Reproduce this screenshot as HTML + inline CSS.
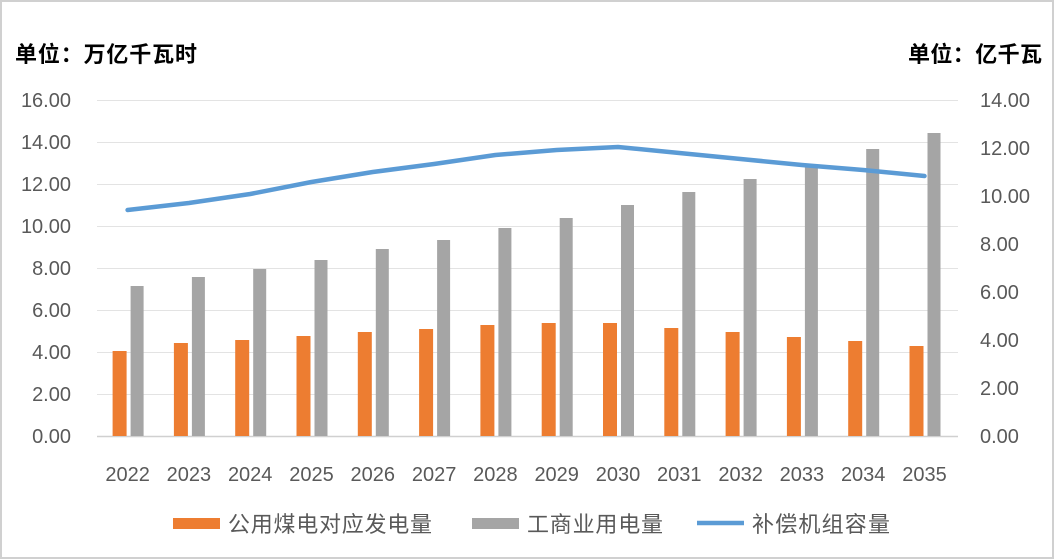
<!DOCTYPE html>
<html><head><meta charset="utf-8"><style>
html,body{margin:0;padding:0;background:#fff;}
svg{display:block;font-family:"Liberation Sans","Noto Sans CJK SC",sans-serif;}
</style></head><body>
<svg width="1054" height="559" viewBox="0 0 1054 559">
<rect x="1" y="1" width="1052" height="557" fill="#fff" stroke="#d0d0d0" stroke-width="2"/>
<g stroke="#e3e3e3" stroke-width="1">
<line x1="97" x2="958" y1="100.5" y2="100.5"/><line x1="97" x2="958" y1="142.5" y2="142.5"/>
<line x1="97" x2="958" y1="184.5" y2="184.5"/><line x1="97" x2="958" y1="226.5" y2="226.5"/>
<line x1="97" x2="958" y1="268.5" y2="268.5"/><line x1="97" x2="958" y1="310.5" y2="310.5"/>
<line x1="97" x2="958" y1="352.5" y2="352.5"/><line x1="97" x2="958" y1="394.5" y2="394.5"/>
</g>
<line x1="97" x2="958" y1="436.5" y2="436.5" stroke="#d0d0d0" stroke-width="1.5"/>
<g fill="#ed7d31">
<rect x="112.6" y="351" width="14" height="85"/><rect x="173.9" y="343" width="14" height="93"/>
<rect x="235.2" y="340" width="14" height="96"/><rect x="296.5" y="336" width="14" height="100"/>
<rect x="357.8" y="332" width="14" height="104"/><rect x="419.1" y="329" width="14" height="107"/>
<rect x="480.4" y="325" width="14" height="111"/><rect x="541.7" y="323" width="14" height="113"/>
<rect x="603" y="323" width="14" height="113"/><rect x="664.3" y="328" width="14" height="108"/>
<rect x="725.6" y="332" width="14" height="104"/><rect x="786.9" y="337" width="14" height="99"/>
<rect x="848.2" y="341" width="14" height="95"/><rect x="909.5" y="346" width="14" height="90"/>
</g>
<g fill="#a5a5a5">
<rect x="130.6" y="286" width="13" height="150"/><rect x="191.9" y="277" width="13" height="159"/>
<rect x="253.2" y="269" width="13" height="167"/><rect x="314.5" y="260" width="13" height="176"/>
<rect x="375.8" y="249" width="13" height="187"/><rect x="437.1" y="240" width="13" height="196"/>
<rect x="498.4" y="228" width="13" height="208"/><rect x="559.7" y="218" width="13" height="218"/>
<rect x="621" y="205" width="13" height="231"/><rect x="682.3" y="192" width="13" height="244"/>
<rect x="743.6" y="179" width="13" height="257"/><rect x="804.9" y="165" width="13" height="271"/>
<rect x="866.2" y="149" width="13" height="287"/><rect x="927.5" y="133" width="13" height="303"/>
</g>
<polyline fill="none" stroke="#5b9bd5" stroke-width="4.5" stroke-linejoin="round" stroke-linecap="round"
points="127.6,210 188.9,203 250.2,194 311.5,182 372.8,172 434.1,164 495.4,155 556.7,150 618,147 679.3,153 740.6,159 801.9,165 863.2,170 924.5,176"/>
<g font-size="20" fill="#595959" text-anchor="end">
<text x="71" y="107">16.00</text><text x="71" y="149">14.00</text><text x="71" y="191">12.00</text>
<text x="71" y="233">10.00</text><text x="71" y="275">8.00</text><text x="71" y="317">6.00</text>
<text x="71" y="359">4.00</text><text x="71" y="401">2.00</text><text x="71" y="443">0.00</text>
</g>
<g font-size="20" fill="#595959" text-anchor="start">
<text x="980" y="107">14.00</text><text x="980" y="155">12.00</text><text x="980" y="203">10.00</text>
<text x="980" y="251">8.00</text><text x="980" y="299">6.00</text><text x="980" y="347">4.00</text>
<text x="980" y="395">2.00</text><text x="980" y="443">0.00</text>
</g>
<g font-size="20" fill="#595959" text-anchor="middle">
<text x="127.6" y="481">2022</text><text x="188.9" y="481">2023</text><text x="250.2" y="481">2024</text>
<text x="311.5" y="481">2025</text><text x="372.8" y="481">2026</text><text x="434.1" y="481">2027</text>
<text x="495.4" y="481">2028</text><text x="556.7" y="481">2029</text><text x="618" y="481">2030</text>
<text x="679.3" y="481">2031</text><text x="740.6" y="481">2032</text><text x="801.9" y="481">2033</text>
<text x="863.2" y="481">2034</text><text x="924.5" y="481">2035</text>
</g>
<text x="15" y="62" font-size="22" font-weight="bold" fill="#000" textLength="182" lengthAdjust="spacing">单位：万亿千瓦时</text>
<text x="908" y="62" font-size="22" font-weight="bold" fill="#000" textLength="134" lengthAdjust="spacing">单位：亿千瓦</text>
<rect x="173" y="518" width="47" height="11" fill="#ed7d31"/>
<text x="228" y="532" font-size="22" fill="#595959" textLength="204" lengthAdjust="spacing">公用煤电对应发电量</text>
<rect x="472" y="518" width="47" height="11" fill="#a5a5a5"/>
<text x="527" y="532" font-size="22" fill="#595959" textLength="136" lengthAdjust="spacing">工商业用电量</text>
<line x1="697" x2="744" y1="523" y2="523" stroke="#5b9bd5" stroke-width="4.5"/>
<text x="752" y="532" font-size="22" fill="#595959" textLength="138" lengthAdjust="spacing">补偿机组容量</text>
</svg>
</body></html>
